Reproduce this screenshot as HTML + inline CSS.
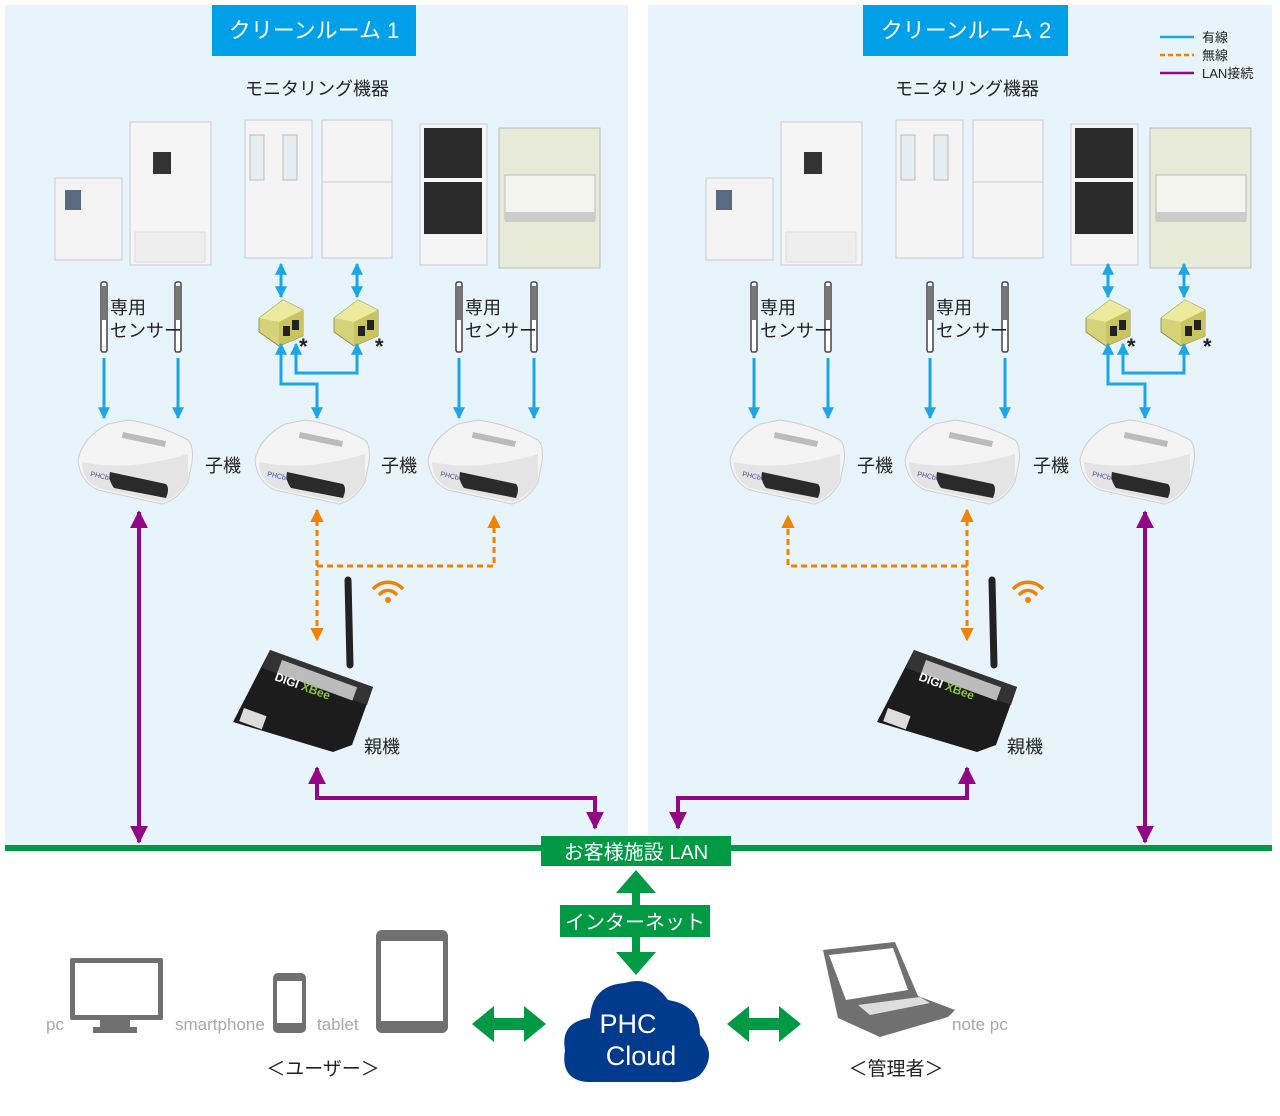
<!DOCTYPE html>
<html><head><meta charset="utf-8"><style>
html,body{margin:0;padding:0;background:#fff}
svg{display:block}
text{font-family:"Liberation Sans","Noto Sans CJK JP",sans-serif}
</style></head><body>
<svg width="1280" height="1116" viewBox="0 0 1280 1116" xmlns="http://www.w3.org/2000/svg">
<defs>
<marker id="mb" viewBox="0 0 10 10" refX="9" refY="5" markerWidth="4" markerHeight="4" orient="auto-start-reverse" markerUnits="strokeWidth"><path d="M0,0L10,5L0,10z" fill="#1ca6e6"/></marker>
<marker id="mo" viewBox="0 0 10 10" refX="9" refY="5" markerWidth="4.5" markerHeight="4.5" orient="auto-start-reverse" markerUnits="strokeWidth"><path d="M0,0L10,5L0,10z" fill="#f08300"/></marker>
<marker id="mp" viewBox="0 0 10 10" refX="9" refY="5" markerWidth="4.5" markerHeight="4.5" orient="auto-start-reverse" markerUnits="strokeWidth"><path d="M0,0L10,5L0,10z" fill="#920783"/></marker>
<g id="child">
<path d="M0,40 Q4,18 30,4 L50,0 Q80,4 110,20 Q116,26 114,42 L110,62 Q100,80 84,84 L20,70 Q2,62 0,40z" fill="#f4f4f4" stroke="#cfcfcf"/>
<path d="M4,42 Q50,52 110,34 L110,60 Q100,78 84,82 L20,68 Q4,60 4,42z" fill="#e4e4e4"/>
<path d="M32,52 L88,64 Q92,68 88,78 L36,68 Q30,60 32,52z" fill="#2a2a2a"/>
<rect x="45" y="12" width="44" height="6" fill="#bbb" transform="rotate(12 45 12)"/>
<text x="12" y="56" font-size="7" fill="#3b4a9a" transform="rotate(12 12 56)">PHCbi</text>
</g>
<g id="mod">
<path d="M0,18 L24,0 L44,10 L44,36 L20,46 L0,32z" fill="#d6d27a" stroke="#8a8640" stroke-width="0.8"/>
<path d="M0,18 L24,0 L44,10 L20,22z" fill="#ecea9c"/>
<path d="M20,22 L44,10 L44,36 L20,46z" fill="#c8c460"/>
<rect x="24" y="26" width="7" height="10" fill="#222"/><rect x="33" y="20" width="7" height="10" fill="#222"/>
</g>
<g id="sensor">
<rect x="-3" y="0" width="6" height="70" rx="2" fill="#fff" stroke="#444" stroke-width="1.5"/>
<rect x="-2" y="4" width="4" height="34" fill="#777"/>
</g>
<g id="gw">
<line x1="118" y1="85" x2="116" y2="0" stroke="#222" stroke-width="7" stroke-linecap="round"/>
<path d="M38,70 L141,107 L120,165 L101,172 L1,142z" fill="#1c1c1c"/>
<path d="M38,70 L141,107 L135,125 L30,88z" fill="#333"/>
<rect x="50" y="80" width="80" height="14" fill="#bbb" transform="rotate(20 50 80)"/>
<text x="42" y="100" font-size="12" font-weight="bold" fill="#fff" transform="rotate(20 42 100)">DIGI <tspan fill="#8cc63f">XBee</tspan></text>
<rect x="12" y="128" width="24" height="14" fill="#ddd" transform="rotate(20 12 128)"/>
</g>
<g id="room">
<rect x="55" y="178" width="67" height="82" fill="#f3f3f3" stroke="#ccc"/>
<rect x="65" y="190" width="16" height="20" fill="#5a6a80"/>
<rect x="130" y="122" width="81" height="143" fill="#f5f5f5" stroke="#ccc"/>
<rect x="153" y="152" width="18" height="22" fill="#333"/>
<rect x="135" y="232" width="70" height="30" fill="#eee" stroke="#ddd"/>
<rect x="245" y="120" width="67" height="138" fill="#f4f4f4" stroke="#ccc"/>
<rect x="250" y="135" width="14" height="45" fill="#e6eef3" stroke="#bbb"/><rect x="283" y="135" width="14" height="45" fill="#e6eef3" stroke="#bbb"/>
<rect x="322" y="120" width="70" height="138" fill="#f4f4f4" stroke="#ccc"/>
<line x1="322" y1="182" x2="392" y2="182" stroke="#ccc"/>
<rect x="420" y="124" width="67" height="141" fill="#f5f5f5" stroke="#ccc"/>
<rect x="424" y="128" width="58" height="50" fill="#2a2a2a"/><rect x="424" y="182" width="58" height="52" fill="#2a2a2a"/>
<rect x="499" y="128" width="101" height="140" fill="#e8ead8" stroke="#bbb"/>
<rect x="505" y="175" width="90" height="45" fill="#f5f5f0" stroke="#bbb"/>
<rect x="505" y="212" width="90" height="10" fill="#ccc"/>
</g>
</defs>

<rect x="5" y="5" width="623" height="843" fill="#e8f4fc"/>
<rect x="648" y="5" width="624" height="843" fill="#e8f4fc"/>
<rect x="212" y="5" width="204" height="51" fill="#00a0e9"/>
<text x="314" y="38" font-size="22" fill="#fff" text-anchor="middle">クリーンルーム  1</text>
<rect x="863" y="5" width="205" height="51" fill="#00a0e9"/>
<text x="966" y="38" font-size="22" fill="#fff" text-anchor="middle">クリーンルーム  2</text>
<text x="317" y="95" font-size="18" fill="#222" text-anchor="middle">モニタリング機器</text>
<text x="967" y="95" font-size="18" fill="#222" text-anchor="middle">モニタリング機器</text>

<line x1="1160" y1="37" x2="1194" y2="37" stroke="#1ca6e6" stroke-width="2.5"/>
<line x1="1160" y1="55" x2="1194" y2="55" stroke="#f08300" stroke-width="2.5" stroke-dasharray="5,3"/>
<line x1="1160" y1="73" x2="1194" y2="73" stroke="#920783" stroke-width="2.5"/>
<text x="1202" y="42" font-size="13" fill="#222">有線</text>
<text x="1202" y="60" font-size="13" fill="#222">無線</text>
<text x="1202" y="78" font-size="13" fill="#222">LAN接続</text>

<use href="#room"/>
<use href="#room" transform="translate(651,0)"/>

<use href="#sensor" x="104" y="282"/><use href="#sensor" x="178" y="282"/>
<use href="#sensor" x="459" y="282"/><use href="#sensor" x="534" y="282"/>
<use href="#sensor" x="754" y="282"/><use href="#sensor" x="828" y="282"/>
<use href="#sensor" x="930" y="282"/><use href="#sensor" x="1005" y="282"/>
<g font-size="18" fill="#222">
<text x="110" y="314">専用</text><text x="110" y="337">センサー</text>
<text x="465" y="314">専用</text><text x="465" y="337">センサー</text>
<text x="760" y="314">専用</text><text x="760" y="337">センサー</text>
<text x="936" y="314">専用</text><text x="936" y="337">センサー</text>
</g>

<use href="#mod" x="259" y="300"/><use href="#mod" x="334" y="300"/>
<use href="#mod" x="1086" y="300"/><use href="#mod" x="1161" y="300"/>
<g font-size="22" fill="#222" font-weight="bold">
<text x="299" y="354">*</text><text x="375" y="354">*</text>
<text x="1127" y="354">*</text><text x="1203" y="354">*</text>
</g>

<g stroke="#1ca6e6" stroke-width="3" fill="none">
<line x1="104" y1="358" x2="104" y2="418" marker-end="url(#mb)"/>
<line x1="178" y1="358" x2="178" y2="418" marker-end="url(#mb)"/>
<line x1="459" y1="358" x2="459" y2="418" marker-end="url(#mb)"/>
<line x1="534" y1="358" x2="534" y2="418" marker-end="url(#mb)"/>
<line x1="754" y1="358" x2="754" y2="418" marker-end="url(#mb)"/>
<line x1="828" y1="358" x2="828" y2="418" marker-end="url(#mb)"/>
<line x1="930" y1="358" x2="930" y2="418" marker-end="url(#mb)"/>
<line x1="1005" y1="358" x2="1005" y2="418" marker-end="url(#mb)"/>
<line x1="281" y1="264" x2="281" y2="297" marker-start="url(#mb)" marker-end="url(#mb)"/>
<line x1="357" y1="264" x2="357" y2="297" marker-start="url(#mb)" marker-end="url(#mb)"/>
<line x1="1108" y1="264" x2="1108" y2="297" marker-start="url(#mb)" marker-end="url(#mb)"/>
<line x1="1184" y1="264" x2="1184" y2="297" marker-start="url(#mb)" marker-end="url(#mb)"/>
<path d="M281,344 L281,384 L317,384 L317,418" marker-start="url(#mb)" marker-end="url(#mb)"/>
<path d="M296,344 L296,373 L357,373 L357,344" marker-start="url(#mb)" marker-end="url(#mb)"/>
<path d="M1108,344 L1108,384 L1145,384 L1145,418" marker-start="url(#mb)" marker-end="url(#mb)"/>
<path d="M1123,344 L1123,373 L1184,373 L1184,344" marker-start="url(#mb)" marker-end="url(#mb)"/>
</g>

<use href="#child" x="78" y="420"/><use href="#child" x="255" y="420"/><use href="#child" x="428" y="420"/>
<use href="#child" x="730" y="420"/><use href="#child" x="905" y="420"/><use href="#child" x="1080" y="420"/>
<g font-size="18" fill="#222">
<text x="205" y="472">子機</text><text x="381" y="472">子機</text>
<text x="857" y="472">子機</text><text x="1033" y="472">子機</text>
</g>

<g stroke="#f08300" stroke-width="3" fill="none" stroke-dasharray="6,4">
<path d="M317,510 L317,640" marker-start="url(#mo)" marker-end="url(#mo)"/>
<path d="M317,566 L494,566 L494,516" marker-end="url(#mo)"/>
<path d="M967,510 L967,640" marker-start="url(#mo)" marker-end="url(#mo)"/>
<path d="M967,566 L788,566 L788,516" marker-end="url(#mo)"/>
</g>
<g fill="none" stroke="#f08300" stroke-width="3.5" stroke-linecap="round">
<path d="M374,588 A20,20 0 0 1 402,588"/><path d="M380,594 A11,11 0 0 1 396,594"/>
<path d="M1014,588 A20,20 0 0 1 1042,588"/><path d="M1020,594 A11,11 0 0 1 1036,594"/>
</g>
<circle cx="388" cy="600" r="3" fill="#f08300"/><circle cx="1028" cy="600" r="3" fill="#f08300"/>

<use href="#gw" x="232" y="580"/><use href="#gw" x="876" y="580"/>
<text x="364" y="753" font-size="18" fill="#222">親機</text>
<text x="1007" y="753" font-size="18" fill="#222">親機</text>

<g stroke="#920783" stroke-width="4" fill="none">
<line x1="139" y1="512" x2="139" y2="842" marker-start="url(#mp)" marker-end="url(#mp)"/>
<line x1="1145" y1="512" x2="1145" y2="842" marker-start="url(#mp)" marker-end="url(#mp)"/>
<path d="M317,768 L317,798 L595,798 L595,828" marker-start="url(#mp)" marker-end="url(#mp)"/>
<path d="M967,768 L967,798 L678,798 L678,828" marker-start="url(#mp)" marker-end="url(#mp)"/>
</g>

<rect x="5" y="845" width="1267" height="6" fill="#009944"/>
<rect x="541" y="836" width="190" height="30" fill="#009944"/>
<text x="636" y="859" font-size="20" fill="#fff" text-anchor="middle">お客様施設 LAN</text>
<rect x="632" y="890" width="8" height="64" fill="#009944"/>
<path d="M616,893 L636,870 L656,893z" fill="#009944"/>
<path d="M616,952 L636,975 L656,952z" fill="#009944"/>
<rect x="560" y="905" width="150" height="32" fill="#009944"/>
<text x="635" y="929" font-size="20" fill="#fff" text-anchor="middle">インターネット</text>

<path d="M588,1082 Q560,1080 565,1050 Q560,1022 590,1018 Q592,985 625,983 Q650,975 668,1000 Q700,1005 700,1035 Q718,1055 700,1075 Q690,1083 670,1082z" fill="#003a8c"/>
<text x="628" y="1033" font-size="27" fill="#fff" text-anchor="middle">PHC</text>
<text x="641" y="1065" font-size="27" fill="#fff" text-anchor="middle">Cloud</text>

<g fill="#009944">
<path d="M472,1024 L494,1006 L494,1018 L524,1018 L524,1006 L546,1024 L524,1042 L524,1030 L494,1030 L494,1042z"/>
<path d="M727,1024 L749,1006 L749,1018 L779,1018 L779,1006 L801,1024 L779,1042 L779,1030 L749,1030 L749,1042z"/>
</g>

<g fill="#707070">
<rect x="70" y="958" width="93" height="62" rx="2"/>
<rect x="100" y="1020" width="30" height="8"/><rect x="93" y="1027" width="44" height="6"/>
<rect x="273" y="973" width="33" height="60" rx="5"/>
<rect x="376" y="930" width="72" height="103" rx="6"/>
<path d="M823,950 L895,942 L918,996 L955,1010 L948,1017 L880,1037 L838,1018z"/>
</g>
<g fill="#fff">
<rect x="75" y="963" width="83" height="52"/>
<rect x="277" y="981" width="25" height="42"/>
<rect x="381" y="941" width="62" height="80"/>
<path d="M829,955 L893,948 L908,990 L846,1000z"/>
<path d="M858,1005 L920,997 L930,1003 L870,1015z" fill="#ddd"/>
</g>
<g font-size="17" fill="#a8a8a8">
<text x="46" y="1030">pc</text>
<text x="175" y="1030">smartphone</text>
<text x="317" y="1030">tablet</text>
<text x="952" y="1030">note pc</text>
</g>
<text x="323" y="1075" font-size="19" fill="#222" text-anchor="middle">＜ユーザー＞</text>
<text x="896" y="1075" font-size="19" fill="#222" text-anchor="middle">＜管理者＞</text>
</svg>
</body></html>
